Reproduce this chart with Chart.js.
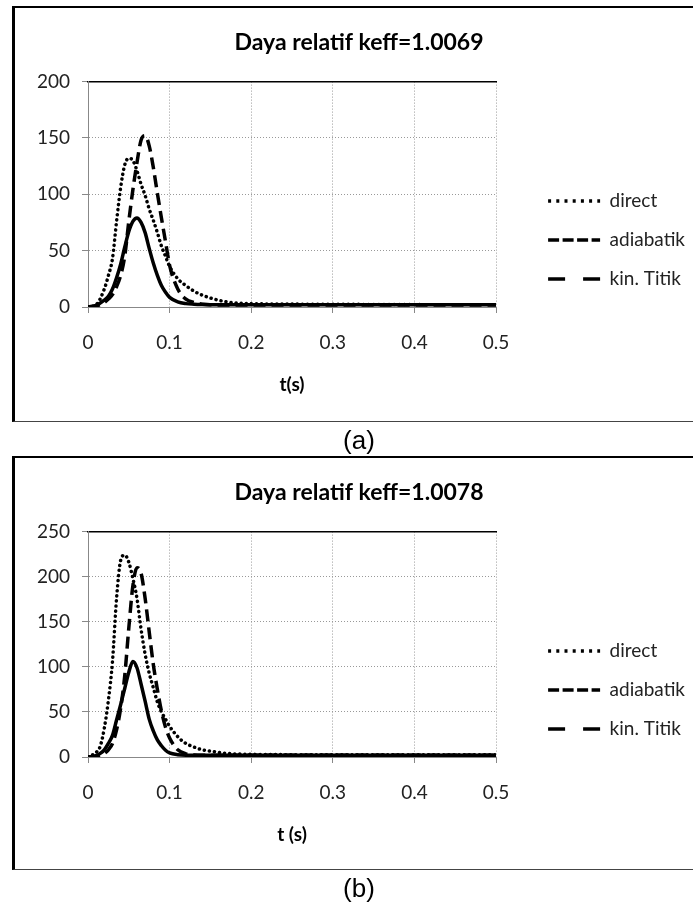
<!DOCTYPE html>
<html>
<head>
<meta charset="utf-8">
<script src="https://cdn.jsdelivr.net/npm/chart.js@4.4.1/dist/chart.umd.min.js"></script>
<style>
  html, body { margin: 0; padding: 0; background: #fff; }
  body { width: 693px; height: 905px; overflow: hidden; position: relative; }
  .frame { position: absolute; left: 12px; width: 700px; box-sizing: border-box;
           border-left: 3px solid #000; border-top: 2px solid #000; border-bottom: 1px solid #444; }
  .plot { position: absolute; left: 23px; }
  .caption { position: absolute; left: 309px; width: 100px; text-align: center; color: #000;
             font-family: "Liberation Sans Narrow", "Arial Narrow", "Liberation Sans", sans-serif;
             font-size: 26px; line-height: 26px; }
</style>
</head>
<body>
<div class="frame" style="top:6px;height:416px"></div>
<div class="frame" style="top:456px;height:414px"></div>
<canvas id="chartA" class="plot" width="672" height="468" style="top:6px"></canvas>
<canvas id="chartB" class="plot" width="672" height="468" style="top:456px"></canvas>
<div class="caption" style="top:427px">(a)</div>
<div class="caption" style="top:875px">(b)</div>

<script>
// ---- data ----
const seriesNames = ['direct', 'adiabatik', 'kin. Titik']
const xTickLabels = ['0', '0.1', '0.2', '0.3', '0.4', '0.5']
const yTicksA = [0, 50, 100, 150, 200]
const yTicksB = [0, 50, 100, 150, 200, 250]

// (a) keff = 1.0069
const timeA = [0, 0.01, 0.02, 0.025, 0.03, 0.035, 0.04, 0.045, 0.05, 0.055, 0.06, 0.065, 0.07, 0.075, 0.08, 0.085,
  0.09, 0.095, 0.1, 0.11, 0.12, 0.13, 0.14, 0.15, 0.17, 0.2, 0.25, 0.3, 0.35, 0.41, 0.45, 0.5]
const directA = [0, 2, 16, 28, 43, 76, 106, 126, 132, 130, 121, 109, 99, 87, 77, 66,
  54, 45, 36, 25, 19, 14, 10.5, 8, 4.5, 3, 2.6, 2.4, 2.3, 2.2, null, null]
const adiabatikA = [0, 1.5, 6, 9.5, 16, 26, 38, 53, 67, 76, 79, 75, 66, 52, 39, 28,
  19, 13, 8.5, 4.5, 3, 2.5, 2.2, 2, 2, 2, 2, 2, 2, 2, 2, 2]
const kinTitikA = [0, 0.8, 4, 7, 11, 18, 28, 45, 76, 104, 128, 148, 152, 143, 124, 101,
  79, 58, 37, 16, 7, 4, 2.5, 2, 1.8, 1.8, 1.8, 1.8, 1.8, 1.8, 1.8, 1.8]

// (b) keff = 1.0078
const timeB = [0, 0.005, 0.01, 0.015, 0.02, 0.025, 0.03, 0.035, 0.04, 0.045, 0.05, 0.055, 0.06, 0.065, 0.07, 0.075,
  0.08, 0.085, 0.09, 0.095, 0.1, 0.11, 0.12, 0.13, 0.14, 0.15, 0.17, 0.2, 0.25, 0.3, 0.4, 0.5]
const directB = [0, 2, 5, 12, 32, 63, 106, 176, 218, 224, 216, 198, 176, 142, 114, 93,
  77, 61, 50, 42, 34, 22.5, 15, 11, 8, 6.5, 4, 3, 2.6, 2.5, 2.4, 2.4]
const adiabatikB = [0, 0.5, 1.5, 4, 8, 15, 24, 41, 58, 76, 94, 106, 99, 81, 62, 42,
  29, 19, 12.5, 7.5, 4.5, 2.5, 2, 2, 2, 2, 2, 2, 2, 2, 2, 2]
const kinTitikB = [0, 0.3, 0.7, 2, 4, 8, 15, 30, 54, 90, 143, 190, 210, 204, 176, 139,
  103, 75, 51, 33, 21, 8, 3.5, 2.3, 2, 2, 2, 2, 2, 2, 2, 2]

// ---- styling ----
Chart.defaults.font.family = 'Lato'
Chart.defaults.color = '#222'

const plotLeft = 65      // chart area left inside the canvas
const plotRight = 473    // chart area right inside the canvas
const plotTop = 76
const plotHeight = 225

const lineStyles = [
  { borderWidth: 3.5, borderDash: [0.1, 5], borderCapStyle: 'round' },
  { borderWidth: 3.5, borderDash: [], borderCapStyle: 'butt' },
  { borderWidth: 3.5, borderDash: [12, 6], borderCapStyle: 'butt' }
]
const legendDashes = [[3, 5.2], [11, 3.5], [17, 18]]

function toPoints(times, values) {
  return times.map((t, i) => ({ x: t, y: values[i] })).filter(p => p.y !== null)
}

function makeChart(id, title, axisTitle, times, series, yTicks) {
  var datasets = series.map((values, i) => Object.assign({
    label: seriesNames[i],
    data: toPoints(times, values),
    borderColor: '#000',
    backgroundColor: 'transparent',
    pointRadius: 0,
    cubicInterpolationMode: 'monotone',
    fill: false
  }, lineStyles[i]))

  var ctx = document.getElementById(id).getContext('2d')
  return new Chart(ctx, {
    type: 'line',
    data: { datasets },
    options: {
      responsive: false,
      animation: false,
      layout: { padding: 0 },
      scales: {
        x: {
          type: 'linear', min: 0, max: 0.5,
          ticks: { stepSize: 0.1, padding: 18, color: '#222', font: { size: 19 },
                   callback: v => xTickLabels[Math.round(v * 10)] },
          grid: { color: '#999', tickColor: '#888', tickLength: 6, tickBorderDash: [] },
          border: { color: '#888', width: 1, dash: [1, 2] },
          title: { display: true, text: axisTitle, color: '#000',
                   font: { size: 19, weight: 'bold' }, padding: { top: 0, bottom: 78 } },
          afterFit: s => { s.height = s.chart.height - plotTop - plotHeight }
        },
        xTop: {
          type: 'linear', position: 'top', display: true,
          grid: { display: false }, ticks: { display: false },
          border: { display: true, color: '#000', width: 1.5 },
          afterFit: s => { s.height = 0 }
        },
        y: {
          min: 0, max: yTicks[yTicks.length - 1],
          ticks: { stepSize: yTicks[1] - yTicks[0], padding: 12, color: '#222', font: { size: 19 } },
          grid: { color: '#999', tickColor: '#888', tickLength: 6, tickBorderDash: [] },
          border: { color: '#888', width: 1, dash: [1, 2] },
          afterFit: s => { s.width = plotLeft }
        },
        ySpacer: {
          type: 'linear', position: 'right', display: true,
          grid: { display: false }, ticks: { display: false }, border: { display: false },
          afterFit: s => {
            var lw = s.chart.legend ? s.chart.legend.width : 0
            s.width = Math.max(0, s.chart.width - lw - plotRight)
          }
        }
      },
      plugins: {
        tooltip: { enabled: false },
        title: {
          display: true, text: title, color: '#000',
          font: { size: 23, weight: 'bold' }, padding: { top: 23, bottom: 25 }
        },
        legend: {
          position: 'right', align: 'center', maxWidth: 260,
          labels: {
            usePointStyle: true, pointStyle: 'line', pointStyleWidth: 52,
            padding: 20, color: '#222', font: { size: 19 },
            generateLabels(chart) {
              var items = Chart.defaults.plugins.legend.labels.generateLabels(chart)
              items.forEach((item, i) => {
                item.lineDash = legendDashes[i]
                item.lineCap = 'butt'
                item.lineWidth = 3.5
              })
              return items
            }
          }
        }
      }
    }
  })
}

makeChart('chartA', 'Daya relatif keff=1.0069', 't(s)', timeA, [directA, adiabatikA, kinTitikA], yTicksA)
makeChart('chartB', 'Daya relatif keff=1.0078', 't (s)', timeB, [directB, adiabatikB, kinTitikB], yTicksB)
</script>
</body>
</html>
